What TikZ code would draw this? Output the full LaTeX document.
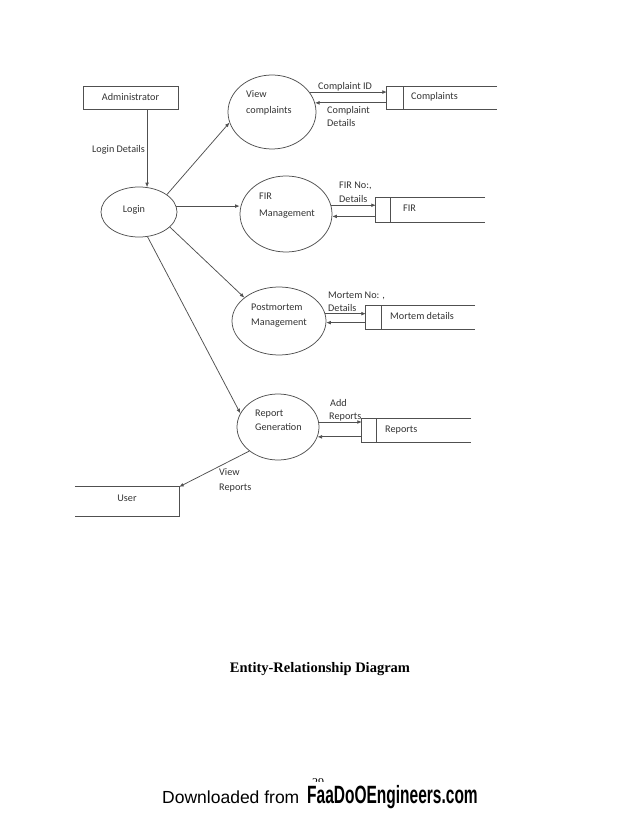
\documentclass[tikz,border=0pt]{standalone}
\usepackage{fontspec}
\usepackage{graphicx}
\setmainfont{Liberation Serif}
\newfontfamily\calfont{Carlito}
\newfontfamily\ariafont{Liberation Sans}
\usetikzlibrary{shapes.geometric,arrows.meta}
\definecolor{lc}{HTML}{505050}
\definecolor{tc}{HTML}{333333}
\begin{document}
\begin{tikzpicture}[x=1pt,y=-1pt,
  ln/.style={draw=lc, line width=0.75pt},
  arr/.style={ln, -{Latex[length=4.5pt,width=3.8pt]}},
  proc/.style={ellipse, ln, inner sep=0pt},
  txt/.style={font=\calfont\fontsize{10.2}{12}\selectfont, text=tc, inner sep=0pt, anchor=base west},
  ctxt/.style={font=\calfont\fontsize{10.2}{12}\selectfont, text=tc, inner sep=0pt},
  store/.style={rectangle, inner sep=0pt}
]
\useasboundingbox (0,0) rectangle (638,826);

% entities
\node[rectangle, ln, minimum width=95pt, minimum height=23pt, inner sep=0pt] (ad) at (130.5,97.5) {};
\node[ctxt] (adt) at (130.5,97) {Administrator};

\node[store, minimum width=104pt, minimum height=29pt] (us) at (127,501.5) {};
\draw[ln] (us.north west) -- (us.north east) -- (us.south east) -- (us.south west);
\node[ctxt] (ust) at (127,498) {User};

% processes
\node[proc, minimum width=76pt, minimum height=50pt] (lg) at (139,212) {};
\node[ctxt] (lgt) at (134,210) {Login};

\node[proc, minimum width=88pt, minimum height=74pt] (vc) at (272,112) {};
\node[txt] (vct1) at (246,97.5) {View};
\node[txt] (vct2) at (246,113.5) {complaints};

\node[proc, minimum width=92pt, minimum height=76pt] (fir) at (286,214) {};
\node[txt] (firt1) at (259,199.5) {FIR};
\node[txt] (firt2) at (259,216.5) {Management};

\node[proc, minimum width=94pt, minimum height=68pt] (pm) at (279,321) {};
\node[txt] (pmt1) at (251,310.5) {Postmortem};
\node[txt] (pmt2) at (251,325.5) {Management};

\node[proc, minimum width=82pt, minimum height=66pt] (rg) at (278,427) {};
\node[txt] (rgt1) at (255,416.5) {Report};
\node[txt] (rgt2) at (255,430.5) {Generation};

% data stores
\node[store, minimum width=110pt, minimum height=22pt] (cs) at (442,98) {};
\draw[ln] (cs.north east) -- (cs.north west) -- (cs.south west) -- (cs.south east);
\draw[ln] ([xshift=17pt]cs.north west) -- ([xshift=17pt]cs.south west);
\node[txt] (cst) at (411,99.5) {Complaints};

\node[store, minimum width=109pt, minimum height=24pt] (fs) at (430.5,210) {};
\draw[ln] (fs.north east) -- (fs.north west) -- (fs.south west) -- (fs.south east);
\draw[ln] ([xshift=15pt]fs.north west) -- ([xshift=15pt]fs.south west);
\node[txt] (fst) at (403,211.5) {FIR};

\node[store, minimum width=109pt, minimum height=23pt] (ms) at (420.5,317.5) {};
\draw[ln] (ms.north east) -- (ms.north west) -- (ms.south west) -- (ms.south east);
\draw[ln] ([xshift=16pt]ms.north west) -- ([xshift=16pt]ms.south west);
\node[txt] (mst) at (390,319.5) {Mortem details};

\node[store, minimum width=109pt, minimum height=23pt] (rs) at (416.5,430.5) {};
\draw[ln] (rs.north east) -- (rs.north west) -- (rs.south west) -- (rs.south east);
\draw[ln] ([xshift=15pt]rs.north west) -- ([xshift=15pt]rs.south west);
\node[txt] (rst) at (385,432.5) {Reports};

% flows
\draw[arr] (ad.south -| lg.72) -- (lg.72);
\node[txt] (l1) at (92,152.5) {Login Details};

\draw[arr] (lg.32) -- (vc.194);
\draw[arr] (lg.9) -- (lg.9 -| fir.west);
\draw[arr] (lg.-26) -- (pm.146);
\draw[arr] (lg.-71) -- (rg.160);
\draw[arr] (rg.220.6) -- (us.north east);
\node[txt] (l2a) at (219,475.5) {View};
\node[txt] (l2b) at (219,490.5) {Reports};

\draw[arr] (vc.28) -- (vc.28 -| cs.west);
\draw[arr] (vc.12 -| cs.west) -- (vc.12);
\node[txt] (l3) at (318,89.5) {Complaint ID};
\node[txt] (l4a) at (327,113.5) {Complaint};
\node[txt] (l4b) at (327,126.5) {Details};

\draw[arr] (fir.11.4) -- (fir.11.4 -| fs.west);
\draw[arr] (fir.-3.7 -| fs.west) -- (fir.-3.7);
\node[txt] (l5a) at (339,188.5) {FIR No:,};
\node[txt] (l5b) at (339,202.5) {Details};

\draw[arr] (pm.9.9) -- (pm.9.9 -| ms.west);
\draw[arr] (pm.-2.4 -| ms.west) -- (pm.-2.4);
\node[txt] (l6a) at (328,298.5) {Mortem No: ,};
\node[txt] (l6b) at (328,311.5) {Details};

\draw[arr] (rg.7) -- (rg.7 -| rs.west);
\draw[arr] (rg.-14.3 -| rs.west) -- (rg.-14.3);
\node[txt] (l7a) at (330,406.5) {Add};
\node[txt] (l7b) at (329,419.5) {Reports};

% caption
\node[font=\bfseries\fontsize{14.5}{17}\selectfont, inner sep=0pt] (cap) at (320,669) {Entity-Relationship Diagram};

% page number (partly hidden by the footer)
\begin{scope}
\clip (300,770) rectangle (340,781);
\node[font=\fontsize{12}{14}\selectfont, inner sep=0pt, anchor=base] (pg) at (318,786) {29};
\end{scope}

% footer
\node[anchor=base west, inner sep=0pt, font=\ariafont\fontsize{17.5}{20}\selectfont] (dl) at (162,803) {Downloaded from};
\node[anchor=base west, inner sep=0pt, font=\ariafont\bfseries\fontsize{25}{28}\selectfont] (fe) at (307,803) {\scalebox{0.62}[1]{FaaDoOEngineers.com}};
\end{tikzpicture}
\end{document}
